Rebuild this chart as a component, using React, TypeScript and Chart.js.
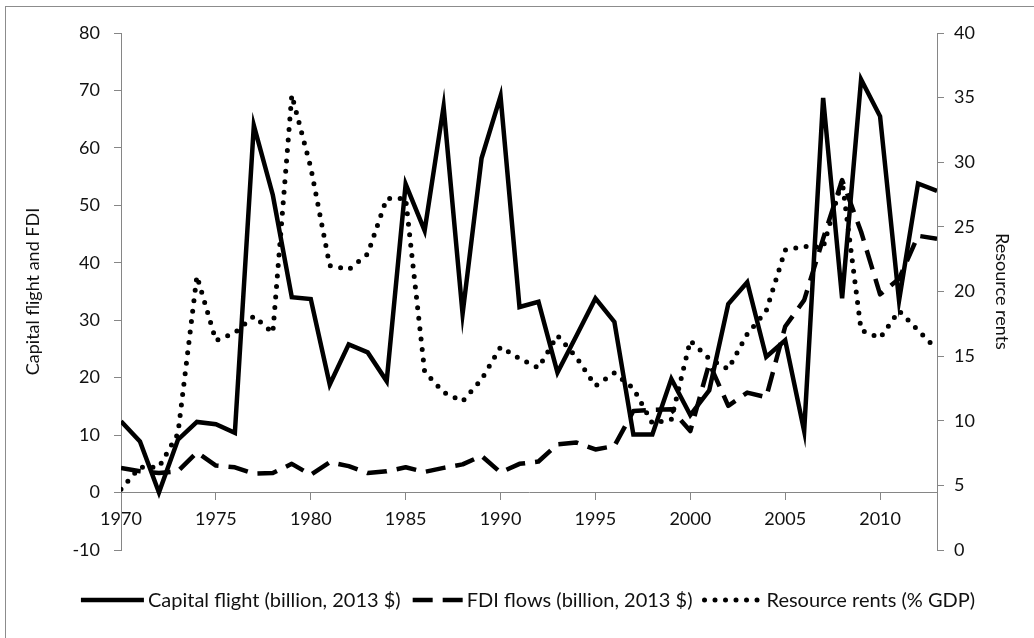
import { useEffect, useRef } from "react";
import { Chart, registerables } from "chart.js";

Chart.register(...registerables);

const years = [
  1970, 1971, 1972, 1973, 1974, 1975, 1976, 1977, 1978, 1979,
  1980, 1981, 1982, 1983, 1984, 1985, 1986, 1987, 1988, 1989,
  1990, 1991, 1992, 1993, 1994, 1995, 1996, 1997, 1998, 1999,
  2000, 2001, 2002, 2003, 2004, 2005, 2006, 2007, 2008, 2009,
  2010, 2011, 2012, 2013,
];

const capitalFlight = [
  12.4, 8.9, 0.0, 9.2, 12.3, 11.9, 10.4, 63.9, 51.8, 34.0,
  33.7, 18.8, 25.8, 24.4, 19.4, 53.7, 45.6, 67.2, 31.1, 58.2,
  69.0, 32.3, 33.2, 20.9, 27.3, 33.8, 29.7, 10.1, 10.1, 19.8,
  13.5, 17.8, 32.8, 36.6, 23.6, 26.5, 10.7, 68.7, 33.8, 71.9,
  65.5, 33.4, 53.8, 52.5,
];

const fdiFlows = [
  4.3, 3.7, 3.4, 3.7, 7.0, 4.7, 4.4, 3.3, 3.4, 5.0,
  3.1, 5.3, 4.6, 3.4, 3.7, 4.4, 3.6, 4.3, 4.9, 6.4,
  3.5, 5.0, 5.4, 8.4, 8.7, 7.5, 8.1, 14.2, 14.4, 14.5,
  10.7, 22.5, 15.1, 17.4, 16.6, 28.9, 33.5, 44.2, 54.4, 45.4,
  34.5, 37.2, 44.7, 44.2,
];

const resourceRents = [
  4.7, 6.4, 6.4, 9.0, 21.2, 16.2, 16.8, 18.1, 16.8, 35.2,
  29.6, 22.0, 21.7, 22.9, 27.2, 27.2, 13.8, 12.2, 11.5, 13.2,
  15.7, 14.8, 14.1, 16.6, 14.9, 12.7, 13.7, 12.5, 9.8, 10.1,
  16.2, 14.8, 14.0, 16.7, 18.5, 23.2, 23.5, 23.4, 28.6, 17.0,
  16.4, 18.5, 17.0, 15.5,
];

const seriesLabels = [
  "Capital flight (billion, 2013 $)",
  "FDI flows (billion, 2013 $)",
  "Resource rents (% GDP)",
];

const leftAxisTitle = "Capital flight and FDI";
const rightAxisTitle = "Resource rents";

const FAMILY = "Lato";
const TEXT_COLOR = "#111";
const AXIS_COLOR = "#868686";

const legendPlugin = {
  id: "lineLegend",
  afterDraw(chart: any) {
    const ctx = chart.ctx as CanvasRenderingContext2D;
    const sampleW = [63, 50, 58];
    const gapS = 4;
    const gapItem = 12;
    ctx.save();
    ctx.font = `20px ${FAMILY}`;
    const widths = seriesLabels.map((t) => ctx.measureText(t).width);
    const total =
      sampleW.reduce((a, b) => a + b, 0) +
      widths.reduce((a, b) => a + b, 0) +
      gapS * 3 +
      gapItem * 2;
    let x = 528 - total / 2;
    const y = 600;
    chart.data.datasets.forEach((ds: any, i: number) => {
      ctx.beginPath();
      ctx.lineWidth = ds.borderWidth;
      ctx.strokeStyle = ds.borderColor;
      ctx.setLineDash(ds.borderDash || []);
      ctx.lineCap = ds.borderCapStyle || "butt";
      ctx.moveTo(x, y);
      ctx.lineTo(x + sampleW[i], y);
      ctx.stroke();
      ctx.setLineDash([]);
      x += sampleW[i] + gapS;
      ctx.fillStyle = TEXT_COLOR;
      ctx.textBaseline = "middle";
      ctx.textAlign = "left";
      ctx.fillText(seriesLabels[i], x, y + 1);
      x += widths[i] + gapItem;
    });
    ctx.restore();
  },
};

export default function App() {
  const ref = useRef<HTMLCanvasElement>(null);

  useEffect(() => {
    if (!ref.current) return;
    const tickFont = { family: FAMILY, size: 18 };
    const toXY = (vals: number[]) => years.map((yr, i) => ({ x: yr, y: vals[i] }));

    const chart = new Chart(ref.current, {
      type: "line",
      data: {
        datasets: [
          {
            label: seriesLabels[0],
            data: toXY(capitalFlight),
            borderColor: "#000",
            backgroundColor: "#000",
            borderWidth: 4.5,
            pointRadius: 0,
            tension: 0,
            yAxisID: "y",
            order: 3,
            borderCapStyle: "butt",
            borderJoinStyle: "miter",
          },
          {
            label: seriesLabels[1],
            data: toXY(fdiFlows),
            borderColor: "#000",
            backgroundColor: "#000",
            borderWidth: 4.5,
            borderDash: [20, 10],
            pointRadius: 0,
            tension: 0,
            yAxisID: "y",
            order: 2,
            borderCapStyle: "butt",
            borderJoinStyle: "round",
          },
          {
            label: seriesLabels[2],
            data: toXY(resourceRents),
            borderColor: "#000",
            backgroundColor: "#000",
            borderWidth: 5,
            borderDash: [0, 10.5],
            pointRadius: 0,
            tension: 0,
            yAxisID: "y1",
            order: 1,
            borderCapStyle: "round",
            borderJoinStyle: "round",
          },
        ],
      },
      options: {
        animation: false,
        responsive: true,
        maintainAspectRatio: false,
        layout: { padding: { left: 0, right: 0, top: 33, bottom: 88 } },
        scales: {
          x: {
            type: "linear",
            position: { y: 0 } as any,
            min: 1970,
            max: 2013,
            ticks: {
              stepSize: 5,
              includeBounds: false,
              callback: (v: any) => String(v),
              padding: 9,
              color: TEXT_COLOR,
              font: tickFont,
              maxRotation: 0,
            },
            grid: { drawOnChartArea: false, tickLength: 7, color: AXIS_COLOR },
            border: { color: AXIS_COLOR, width: 1 },
          },
          y: {
            type: "linear",
            position: "left",
            min: -10,
            max: 80,
            ticks: {
              stepSize: 10,
              padding: 14,
              color: TEXT_COLOR,
              font: tickFont,
              callback: (v: any) => String(v),
            },
            grid: { drawOnChartArea: false, tickLength: 7, color: AXIS_COLOR },
            border: { color: AXIS_COLOR, width: 1 },
            title: {
              display: true,
              text: leftAxisTitle,
              color: TEXT_COLOR,
              font: { family: FAMILY, size: 18 },
              padding: { top: 22, bottom: 0 },
            },
            afterFit: (s: any) => {
              s.width = 121;
            },
          },
          y1: {
            type: "linear",
            position: "right",
            min: 0,
            max: 40,
            ticks: {
              stepSize: 5,
              padding: 10,
              color: TEXT_COLOR,
              font: tickFont,
              callback: (v: any) => String(v),
            },
            grid: { drawOnChartArea: false, tickLength: 7, color: AXIS_COLOR },
            border: { color: AXIS_COLOR, width: 1 },
            title: {
              display: true,
              text: rightAxisTitle,
              color: TEXT_COLOR,
              font: { family: FAMILY, size: 18 },
              padding: { top: 21, bottom: 0 },
            },
            afterFit: (s: any) => {
              s.width = 97;
            },
          },
        },
        plugins: {
          legend: { display: false },
          tooltip: { enabled: false },
        },
      },
      plugins: [legendPlugin],
    });
    return () => chart.destroy();
  }, []);

  return (
    <div
      style={{
        position: "fixed",
        left: 0,
        top: 0,
        width: 1034,
        height: 638,
        overflow: "hidden",
        background: "#fff",
      }}
    >
      <div
        style={{
          position: "absolute",
          left: 5,
          top: 6,
          width: 1100,
          height: 700,
          border: "1px solid #8c8c8c",
        }}
      />
      <div style={{ position: "absolute", left: 0, top: 0, width: 1034, height: 638 }}>
        <canvas ref={ref} />
      </div>
    </div>
  );
}
